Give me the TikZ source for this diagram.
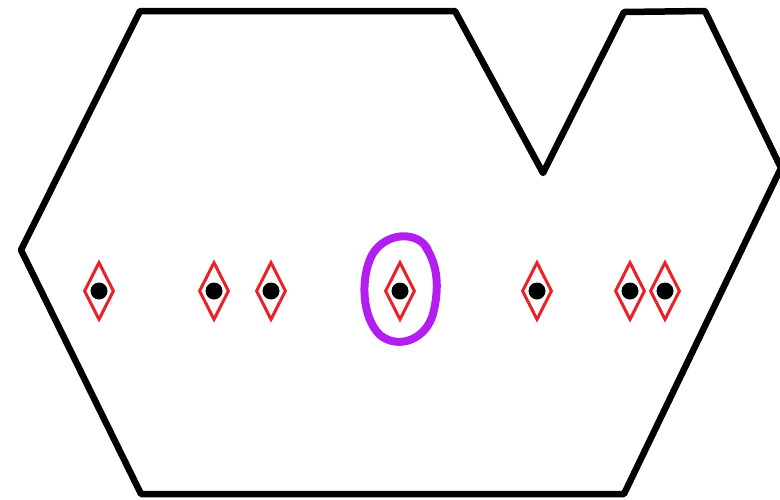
\documentclass[tikz,border=0pt]{standalone}
\usetikzlibrary{shapes.geometric}
\definecolor{dred}{RGB}{236,32,40}
\definecolor{purp}{RGB}{178,30,240}
\begin{document}
\begin{tikzpicture}[x=1pt,y=-1pt,
  outline/.style={line width=6.5pt,line join=round,line cap=round,black},
  gem/.style={diamond,draw=dred,line width=3pt,minimum width=30pt,minimum height=58pt,inner sep=0pt},
  dot/.style={circle,fill=black,minimum size=17pt,inner sep=0pt},
  ring/.style={draw=purp,line width=8pt,line cap=round}]
\useasboundingbox (0,0) rectangle (780,499);
\coordinate (p1) at (140,11);
\coordinate (p2) at (455,11);
\coordinate (p3) at (543,173);
\coordinate (p4) at (624,12);
\coordinate (p5) at (705,11);
\coordinate (p6) at (781,168);
\coordinate (p7) at (624,494);
\coordinate (p8) at (141,494);
\coordinate (p9) at (21,250);
\draw[outline] (p1) -- (p2) -- (p3) -- (p4) -- (p5) -- (p6) -- (p7) -- (p8) -- (p9) -- cycle;
\foreach \n/\x in {a/99,b/214,c/271,d/400,e/537,f/630,g/665}{
  \node[gem] (g\n) at (\x,291) {};
  \node[dot] (k\n) at (\x,291) {};
}
\draw[ring] (428,250) .. controls (418,230) and (385,232) .. (372,255)
  .. controls (360,278) and (362,318) .. (380,335)
  .. controls (398,350) and (428,340) .. (434,310)
  .. controls (440,282) and (436,262) .. (425,246);
\end{tikzpicture}
\end{document}
